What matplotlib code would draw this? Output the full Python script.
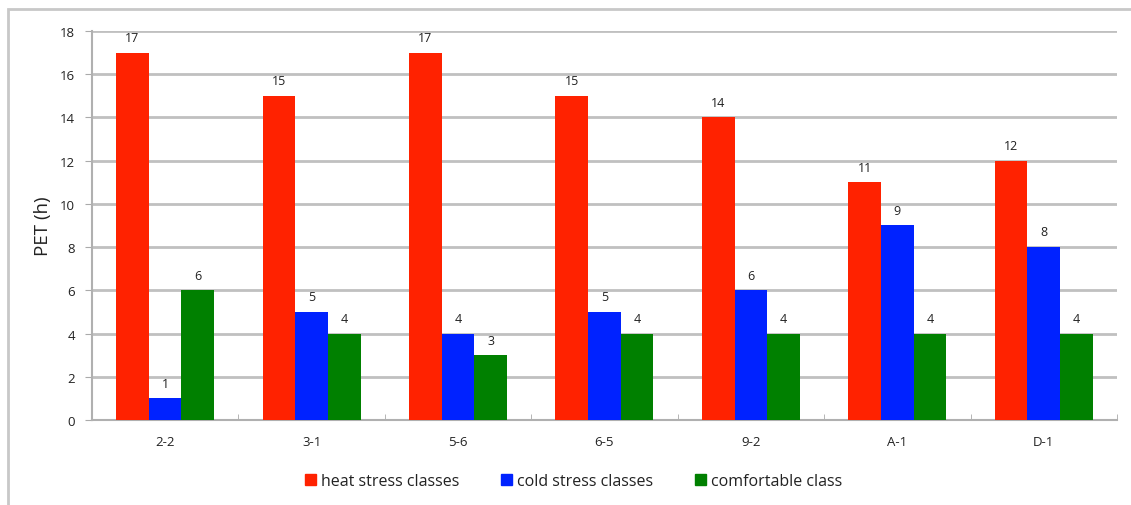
import numpy as np
import matplotlib.pyplot as plt
from matplotlib.patches import Rectangle, Patch

# PET hours per site
sites = ['2-2', '3-1', '5-6', '6-5', '9-2', 'A-1', 'D-1']
heat = [17, 15, 17, 15, 14, 11, 12]
cold = [1, 5, 4, 5, 6, 9, 8]
comfort = [6, 4, 3, 4, 4, 4, 4]

series = [('heat stress classes', heat, '#ff2200'),
          ('cold stress classes', cold, '#0022ff'),
          ('comfortable class', comfort, '#008000')]

plt.rcParams['font.family'] = ['Open Sans', 'DejaVu Sans']

fig = plt.figure(figsize=(11.31, 5.06), dpi=100)
ax = fig.add_axes([0.0813, 0.168, 0.9063, 0.7688])

x = np.arange(len(sites))
w = 0.223
for i, (name, vals, col) in enumerate(series):
    pos = x + (i - 1) * w
    ax.bar(pos, vals, width=w, color=col, zorder=3)
    for p, v in zip(pos, vals):
        ax.text(p, v + 0.4, str(v), ha='center', va='bottom', fontsize=9, color='#222222')

ax.set_xlim(-0.5, len(sites) - 0.5)
ax.set_ylim(0, 18)
ax.set_yticks(range(0, 19, 2))
ax.set_xticks(x)
ax.set_xticklabels(sites)
ax.set_xticks(np.arange(-0.5, len(sites), 1), minor=True)
ax.tick_params(axis='x', which='major', length=0, pad=11, labelsize=9.5, labelcolor='#222222')
ax.tick_params(axis='x', which='minor', length=4, color='#aaaaaa', direction='in')
ax.tick_params(axis='y', length=5, color='#aaaaaa', labelsize=9.5, pad=7, labelcolor='#222222')
ax.grid(axis='y', color='#c0c0c0', linewidth=2, zorder=0)
for s in ['top', 'right']:
    ax.spines[s].set_visible(False)
ax.spines['left'].set_color('#b0b0b0')
ax.spines['bottom'].set_color('#b0b0b0')
ax.spines['left'].set_linewidth(1.5)
ax.spines['bottom'].set_linewidth(1.5)
ax.set_ylabel('PET (h)', fontsize=13.5, labelpad=6, color='#222222')

handles = [Patch(color=c, label=n) for n, _, c in series]
fig.legend(handles=handles, loc='center', bbox_to_anchor=(0.507, 0.047), ncol=3,
           frameon=False, fontsize=11.5, handlelength=0.7, handleheight=0.7,
           handletextpad=0.3, columnspacing=2.6, labelcolor='#222222')

# outer frame around the chart
fig.patches.append(Rectangle((8 / 1131, -0.05), 1.2, 1 - 10 / 506 + 0.05,
                             transform=fig.transFigure, fill=False,
                             edgecolor='#c8c8c8', linewidth=2))

fig.savefig('out.png', dpi=100)
